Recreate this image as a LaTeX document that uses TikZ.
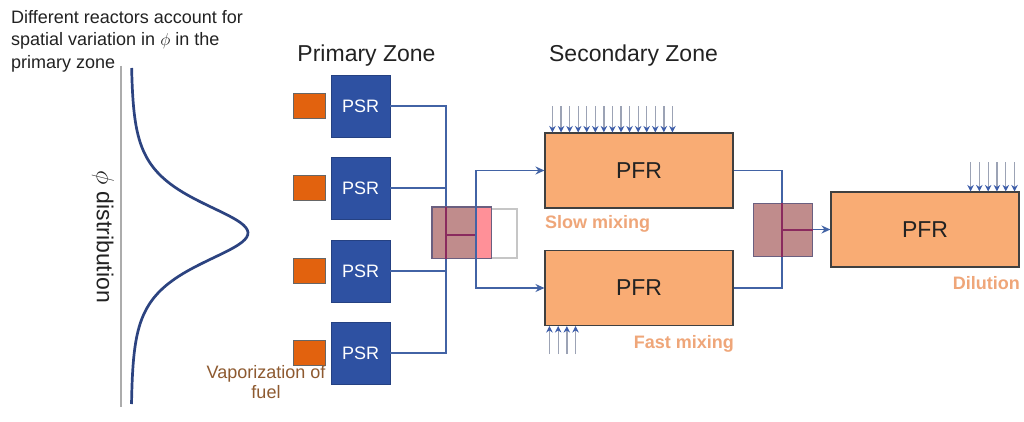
\documentclass[tikz,border=0pt]{standalone}
\usepackage{fontspec}
\setmainfont{Liberation Sans}
\usetikzlibrary{arrows.meta}
\definecolor{psrblue}{HTML}{2E51A2}
\definecolor{lineblue}{HTML}{4263A5}
\definecolor{fuelorange}{HTML}{E2620E}
\definecolor{pfrorange}{HTML}{F9AC74}
\definecolor{labelorange}{HTML}{EFA679}
\definecolor{vapbrown}{HTML}{8E5A30}
\definecolor{mixbrown}{HTML}{C08C8C}
\definecolor{mixpink}{HTML}{FF9098}
\definecolor{mixline}{HTML}{8A2A5E}
\definecolor{mixborder}{HTML}{6A5F80}
\definecolor{curveblue}{HTML}{2C4380}
\definecolor{injgray}{HTML}{9CA3B5}
\definecolor{injblue}{HTML}{3B5CAA}
\definecolor{textdark}{HTML}{222222}
\begin{document}
\begin{tikzpicture}[x=1pt,y=-1pt,
  psr/.style={fill=psrblue, draw=psrblue!80!black, line width=0.6pt, minimum width=59pt, minimum height=62pt, inner sep=0, text=white, font=\fontsize{18}{20}\selectfont},
  fuel/.style={fill=fuelorange, draw=gray!80!black, line width=0.9pt, minimum width=32pt, minimum height=25pt, inner sep=0},
  pfr/.style={fill=pfrorange, draw=black!75, line width=1.1pt, minimum width=188pt, minimum height=75pt, inner sep=0, text=textdark, font=\fontsize{23}{25}\selectfont},
  conn/.style={draw=lineblue, line width=1.9pt},
  flow/.style={conn, -{Stealth[length=9pt,width=8pt]}},
  inj/.style={draw=injgray, line width=1.3pt, -{Stealth[length=6.5pt,width=6.5pt,color=injblue]}},
  injline/.style={draw=mixline, line width=2pt},
  mixer/.style={fill=mixbrown, draw=mixborder, line width=1pt, inner sep=0},
  lbl/.style={font=\fontsize{18}{19.5}\selectfont\bfseries, text=labelorange, inner sep=0},
  title/.style={font=\fontsize{23}{25}\selectfont, text=textdark, inner sep=0},
]
\useasboundingbox[fill=white] (0,0) rectangle (1024,422);

% left part
\node[anchor=north west, align=left, inner sep=0, text=textdark, font=\fontsize{18}{22.5}\selectfont] (note) at (11,10)
  {Different reactors account for\\spatial variation in $\phi$ in the\\primary zone};
\draw[gray!65, line width=1.1pt] (121,66) -- (121,407);
\draw[curveblue, line width=2.7pt] plot[domain=68:404, samples=140, smooth] ({131+117/cosh((\x-233)/28)}, \x);
\node[title, rotate=-90] (phid) at (103,237) {$\phi$ distribution};

% titles
\node[title, anchor=base] (pz) at (366.5,62) {Primary Zone};
\node[title, anchor=base] (sz) at (633.5,62) {Secondary Zone};

% PSRs and fuel
\foreach \i/\y in {1/106,2/188,3/271,4/353}{
  \node[psr] (psr\i) at (360.5,\y) {PSR};
  \node[fuel] (fuel\i) at (309,\y) {};
}
\node[anchor=base, align=center, inner sep=0, text=vapbrown, font=\fontsize{18}{19.5}\selectfont] (vap) at (266,398) {Vaporization of\\fuel};

% PFRs
\node[pfr] (pfr1) at (639,170.5) {PFR};
\node[pfr] (pfr2) at (639,288) {PFR};
\node[pfr] (pfr3) at (925,229.5) {PFR};

% collector 1
\coordinate (c1) at (446,0);
\coordinate (s1) at (476,0);
\coordinate (j1) at (0,234.5);
\draw[conn] (psr1.east) -| (c1 |- psr4.east) -- (psr4.east);
\draw[conn] (psr2.east) -- (psr2.east -| c1);
\draw[conn] (psr3.east) -- (psr3.east -| c1);

% mixer 1
\node[draw=gray!45, line width=1.1pt, fill=white, minimum width=41pt, minimum height=49pt, inner sep=0] (ghost) at (496.5,233.5) {};
\node[mixer, minimum width=59pt, minimum height=51pt] (mix1) at (461.5,232.5) {};
\fill[mixpink] (476,207.5) rectangle (490.5,257.5);
\draw[mixborder, line width=1pt] (mix1.north west) rectangle (mix1.south east);
\draw[injline] (c1 |- mix1.north) -- (c1 |- mix1.south);
\draw[injline] (c1 |- j1) -- (s1 |- j1);
\draw[flow] (s1 |- j1) |- (pfr1.west);
\draw[flow] (s1 |- j1) |- (pfr2.west);

% collector 2
\coordinate (c2) at (782,0);
\draw[conn] (pfr1.east) -| (c2 |- pfr2.east) -- (pfr2.east);
\node[mixer, minimum width=59pt, minimum height=53pt] (mix2) at (782.5,229.5) {};
\draw[injline] (c2 |- mix2.north) -- (c2 |- mix2.south);
\draw[injline] (c2 |- mix2.center) -- (mix2.east);
\draw[flow] (mix2.east) -- (pfr3.west);

% injections
\foreach \i in {0,...,14}{
  \draw[inj] ([shift={({8+\i*8.57},-26)}]pfr1.north west) -- ([xshift={(8+\i*8.57)*1pt}]pfr1.north west);
}
\foreach \i in {0,...,3}{
  \draw[inj] ([shift={({5+\i*8.7},28)}]pfr2.south west) -- ([xshift={(5+\i*8.7)*1pt}]pfr2.south west);
}
\foreach \i in {0,...,5}{
  \draw[inj] ([shift={({-49+\i*8.8},-29)}]pfr3.north east) -- ([xshift={(-49+\i*8.8)*1pt}]pfr3.north east);
}

% labels
\node[lbl, anchor=base west] (slow) at (545,228) {Slow mixing};
\node[lbl, anchor=base east] (fast) at (734,348) {Fast mixing};
\node[lbl, anchor=base east] (dil) at (1020,289) {Dilution};
\end{tikzpicture}
\end{document}
